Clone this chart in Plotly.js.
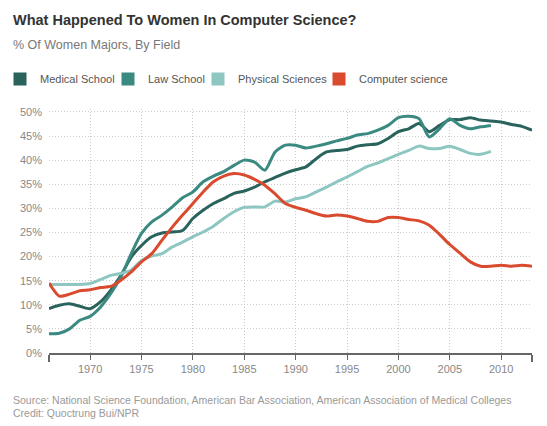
<!DOCTYPE html>
<html>
<head>
<meta charset="utf-8">
<script src="https://cdn.plot.ly/plotly-3.0.1.min.js"></script>
<style>
  body { margin: 0; background: #fff; }
  #graph { width: 547px; height: 426px; }
</style>
</head>
<body>
<div id="graph"></div>
<script>
var years = [1966,1967,1968,1969,1970,1971,1972,1973,1974,1975,1976,1977,1978,1979,1980,
  1981,1982,1983,1984,1985,1986,1987,1988,1989,1990,1991,1992,1993,1994,1995,1996,1997,
  1998,1999,2000,2001,2002,2003,2004,2005,2006,2007,2008,2009,2010,2011,2012,2013];

var medical = [9.2,9.9,10.2,9.7,9.2,10.6,13.0,16.1,19.9,22.3,24.1,24.9,25.1,25.4,27.9,
  29.6,31.0,32.0,33.1,33.6,34.4,35.5,36.4,37.3,38.0,38.6,40.3,41.7,42.0,42.2,42.9,43.2,
  43.4,44.5,45.9,46.5,47.6,45.9,47.2,48.4,48.4,48.8,48.3,48.1,47.9,47.4,47.0,46.2];

var law = [4.0,4.1,5.0,6.8,7.6,9.5,12.3,15.8,20.6,24.8,27.2,28.6,30.3,32.2,33.4,
  35.5,36.7,37.6,38.9,40.0,39.6,37.9,41.7,43.1,43.1,42.5,42.9,43.4,44.0,44.5,45.2,45.5,
  46.2,47.2,48.8,49.1,48.6,44.8,46.5,48.6,47.2,46.5,46.9,47.2];

var physical = [14.2,14.2,14.2,14.2,14.4,15.2,16.1,16.5,17.2,19.2,20.1,20.6,22.0,23.0,24.1,
  25.1,26.3,27.9,29.3,30.2,30.3,30.3,31.5,31.3,32.0,32.4,33.4,34.4,35.5,36.5,37.6,38.7,
  39.4,40.3,41.2,42.0,42.9,42.4,42.4,42.9,42.2,41.4,41.2,41.8];

var compsci = [14.5,11.8,12.2,12.9,13.1,13.6,13.8,15.1,16.8,18.9,20.6,23.4,26.1,28.6,31.0,
  33.4,35.5,36.7,37.2,36.9,36.0,34.8,33.0,31.0,30.2,29.6,28.9,28.4,28.6,28.4,27.9,27.3,
  27.3,28.1,28.1,27.7,27.4,26.5,24.6,22.5,20.7,18.9,18.0,18.0,18.2,18.0,18.2,18.0];

var seriesNames = ['Medical School', 'Law School', 'Physical Sciences', 'Computer science'];
var seriesColors = ['#2a635c', '#3a8a82', '#8ec7c1', '#da4a2e'];
var seriesValues = [medical, law, physical, compsci];

var xTicks = [1970, 1975, 1980, 1985, 1990, 1995, 2000, 2005, 2010];
var yTicks = [0, 5, 10, 15, 20, 25, 30, 35, 40, 45, 50];
var yLabels = yTicks.map(function (v) { return v + '%'; });

// left edge (px) of each little legend box
var legendLeft = [0, 108, 198, 319];

var font = 'Liberation Sans, Arial, sans-serif';

var traces = [];
// the lines themselves
for (var i = 0; i < seriesValues.length; i++) {
  traces.push({
    x: years.slice(0, seriesValues[i].length),
    y: seriesValues[i],
    type: 'scatter',
    mode: 'lines',
    line: { color: seriesColors[i], width: 3, shape: 'spline', smoothing: 0.7 },
    showlegend: false,
    hoverinfo: 'skip'
  });
}
// square swatches, one small legend each so they sit where the original has them
for (var j = 0; j < seriesNames.length; j++) {
  traces.push({
    x: [null],
    y: [null],
    name: seriesNames[j],
    type: 'scatter',
    mode: 'markers',
    marker: { symbol: 'square', size: 13, color: seriesColors[j] },
    showlegend: true,
    legend: j === 0 ? 'legend' : 'legend' + (j + 1)
  });
}

var layout = {
  width: 547,
  height: 426,
  margin: { l: 49, r: 15, t: 109, b: 73 },
  paper_bgcolor: '#ffffff',
  plot_bgcolor: '#ffffff',
  font: { family: font, color: '#888888', size: 11 },
  title: {
    text: 'What Happened To Women In Computer Science?',
    font: { family: font, size: 14.5, color: '#333333', weight: 'bold' },
    x: 13 / 547,
    xref: 'container',
    xanchor: 'left',
    y: 1 - 20 / 426,
    yref: 'container',
    yanchor: 'middle'
  },
  xaxis: {
    range: [1966, 2013],
    tickvals: xTicks,
    ticks: 'outside',
    ticklen: 5,
    tickcolor: '#666666',
    tickwidth: 1,
    showline: true,
    linecolor: '#666666',
    linewidth: 1.5,
    showgrid: true,
    gridcolor: '#cccccc',
    griddash: '1px,2px',
    gridwidth: 1,
    zeroline: false,
    tickfont: { size: 11, color: '#888888' },
    minor: {
      tickmode: 'array',
      tickvals: [1966, 2013],
      ticks: 'outside',
      ticklen: 7,
      tickcolor: '#666666',
      tickwidth: 1.5,
      showgrid: false
    }
  },
  yaxis: {
    range: [0, 50.6],
    tickvals: yTicks,
    ticktext: yLabels,
    showgrid: true,
    gridcolor: '#cccccc',
    griddash: '1px,2px',
    gridwidth: 1,
    zeroline: false,
    showline: false,
    ticks: '',
    ticklabelstandoff: 6,
    tickfont: { size: 11, color: '#888888' }
  },
  annotations: [
    {
      text: '% Of Women Majors, By Field',
      xref: 'paper', yref: 'paper',
      x: (11 - 49) / 483, xanchor: 'left',
      y: 1 + (109 - 45) / 244, yanchor: 'middle',
      showarrow: false,
      font: { family: font, size: 12.5, color: '#777777' }
    },
    {
      text: 'Source: National Science Foundation, American Bar Association, American Association of Medical Colleges',
      xref: 'paper', yref: 'paper',
      x: (11 - 49) / 483, xanchor: 'left',
      y: -(400 - 353) / 244, yanchor: 'middle',
      showarrow: false,
      font: { family: font, size: 10.5, color: '#999999' }
    },
    {
      text: 'Credit: Quoctrung Bui/NPR',
      xref: 'paper', yref: 'paper',
      x: (11 - 49) / 483, xanchor: 'left',
      y: -(413 - 353) / 244, yanchor: 'middle',
      showarrow: false,
      font: { family: font, size: 10.5, color: '#999999' }
    }
  ]
};

for (var k = 0; k < legendLeft.length; k++) {
  layout[k === 0 ? 'legend' : 'legend' + (k + 1)] = {
    orientation: 'h',
    xref: 'container',
    yref: 'container',
    x: legendLeft[k] / 547,
    xanchor: 'left',
    y: 1 - 79 / 426,
    yanchor: 'middle',
    font: { family: font, size: 11, color: '#555555' },
    itemwidth: 30,
    bgcolor: 'rgba(0,0,0,0)'
  };
}

Plotly.newPlot('graph', traces, layout, { displayModeBar: false, staticPlot: true });
</script>
</body>
</html>
